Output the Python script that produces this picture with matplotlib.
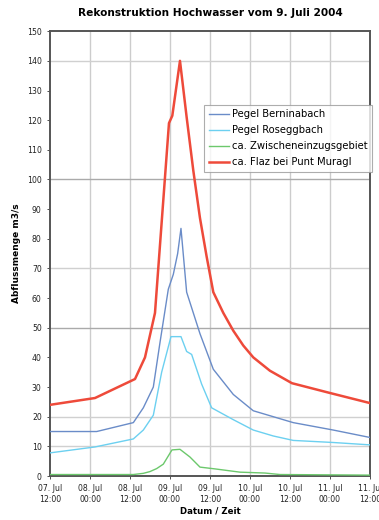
import matplotlib
matplotlib.use("Agg")
import matplotlib.pyplot as plt
import matplotlib.dates as mdates
import numpy as np

START = np.datetime64("2004-07-07T12:00")

# hours after 07. Jul 12:00 and discharge values (m3/s)
bern_h = [0, 14, 25, 28, 31, 33, 35.5, 37, 38.3, 39.3, 41, 45, 49, 55, 61, 67, 73, 85, 96]
bern_q = [15, 15, 18, 23, 30, 45, 63, 68, 75, 83.5, 62, 48, 36, 27.5, 22, 20, 18, 15.5, 13]

roseg_h = [0, 13.5, 25, 28, 31, 33.5, 36.3, 39.3, 41, 42.5, 45.5, 48.5, 55, 61, 67, 73, 85, 96]
roseg_q = [7.8, 9.8, 12.5, 15.5, 20.5, 35, 47, 47, 42, 41, 31, 23, 19, 15.5, 13.5, 12, 11.3, 10.5]

zwisch_h = [0, 25, 28, 30, 32, 34, 36.6, 39, 42, 45, 49.5, 57, 64.5, 69, 96]
zwisch_q = [0.5, 0.5, 0.9, 1.5, 2.5, 4, 8.8, 9, 6.4, 3, 2.4, 1.3, 1.0, 0.5, 0.3]

flaz_h = [0, 13.5, 25.5, 28.5, 31.5, 35.7, 36.7, 39, 41, 43, 45, 47, 49, 52, 55, 58, 61, 66, 72.6, 84, 96]
flaz_q = [24, 26.3, 32.7, 40, 55, 119, 121.5, 140, 121, 103, 87, 74, 62, 55, 49, 44, 40, 35.5, 31.3, 28, 24.6]

series_labels = ["Pegel Berninabach", "Pegel Roseggbach",
                 "ca. Zwischeneinzugsgebiet", "ca. Flaz bei Punt Muragl"]
y_ticks = list(range(0, 151, 10))
y_grid = [10, 20, 50, 70, 100, 140]
x_tick_hours = list(range(0, 97, 12))


def to_dates(hours):
    return [START + np.timedelta64(int(round(h * 60)), "m") for h in hours]


fig = plt.figure(figsize=(3.79, 5.20), dpi=100)
ax = fig.add_axes([0.132, 0.0846, 0.844, 0.8554])

ax.plot(to_dates(bern_h), bern_q, color="#6a8cc8", lw=1.0, label=series_labels[0], zorder=3)
ax.plot(to_dates(roseg_h), roseg_q, color="#6cd0f0", lw=1.0, label=series_labels[1], zorder=3)
ax.plot(to_dates(zwisch_h), zwisch_q, color="#6cc86c", lw=1.0, label=series_labels[2], zorder=3)
ax.plot(to_dates(flaz_h), flaz_q, color="#ee4a3a", lw=1.8, label=series_labels[3], zorder=4)

ax.set_ylim(0, 150)
xt = to_dates(x_tick_hours)
ax.set_xlim(xt[0], xt[-1])
ax.set_xticks(xt)
ax.xaxis.set_major_formatter(mdates.DateFormatter("%d. %b\n%H:%M"))
ax.set_yticks(y_ticks)

for x in xt[1:-1]:
    ax.axvline(x, color="#cccccc", lw=1.0, zorder=1)
for g in y_grid:
    c = "#aaaaaa" if g in (50, 100) else "#d0d0d0"
    ax.axhline(g, color=c, lw=1.0, zorder=1)

for s in ax.spines.values():
    s.set_color("#555555")
    s.set_linewidth(1.4)

ax.tick_params(axis="both", labelsize=5.6, colors="#333333", length=2.5, width=0.6)
for lab in ax.get_xticklabels() + ax.get_yticklabels():
    lab.set_color("#222222")

ax.set_ylabel("Abflussmenge m3/s", fontsize=6.5, fontweight="bold", labelpad=4)
ax.set_xlabel("Datum / Zeit", fontsize=6.2, fontweight="bold", labelpad=2)
ax.set_title("Rekonstruktion Hochwasser vom 9. Juli 2004", fontsize=7.6,
             fontweight="bold", pad=11)

leg = ax.legend(loc="upper left", bbox_to_anchor=(0.482, 0.835), fontsize=7.2,
                frameon=True, fancybox=False, edgecolor="#999999",
                handlelength=2.0, borderpad=0.45, labelspacing=0.6,
                handletextpad=0.3, borderaxespad=0)
leg.get_frame().set_linewidth(0.8)
leg.set_zorder(5)

fig.savefig("out.png", dpi=100)
